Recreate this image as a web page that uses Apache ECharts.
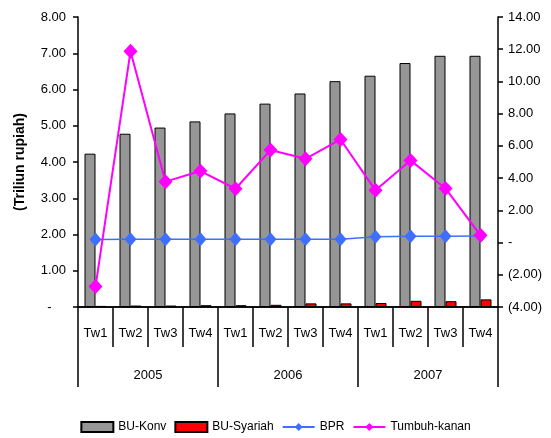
<!DOCTYPE html>
<html>
<head>
<meta charset="utf-8">
<script src="https://cdn.jsdelivr.net/npm/echarts@6/dist/echarts.min.js"></script>
<style>
  html, body { margin: 0; padding: 0; background: #fff; }
  #chart { width: 551px; height: 438px; }
</style>
</head>
<body>
<div id="chart"></div>
<script>
// Quarterly credit figures, 2005-2007
const quarters = ['Tw1', 'Tw2', 'Tw3', 'Tw4', 'Tw1', 'Tw2', 'Tw3', 'Tw4', 'Tw1', 'Tw2', 'Tw3', 'Tw4'];
const years = ['2005', '2006', '2007'];
const buKonv = [4.23, 4.78, 4.95, 5.12, 5.34, 5.61, 5.89, 6.23, 6.38, 6.73, 6.93, 6.93];
const buSyariah = [0.03, 0.04, 0.04, 0.05, 0.05, 0.06, 0.10, 0.10, 0.11, 0.17, 0.16, 0.21];
const bpr = [1.86, 1.87, 1.87, 1.87, 1.87, 1.87, 1.87, 1.87, 1.94, 1.95, 1.95, 1.96];
const tumbuhKanan = [-2.73, 11.87, 3.78, 4.44, 3.34, 5.74, 5.20, 6.40, 3.24, 5.10, 3.36, 0.45];

const FONT = '"Liberation Sans", Arial, sans-serif';
const black = '#000';

// Accounting-style labels: zero shown as a dash, negatives in brackets
function leftFmt(v) {
  return v === 0 ? '-    ' : v.toFixed(2);
}
function rightFmt(v) {
  if (v === 0) return '-';
  if (v < 0) return '(' + Math.abs(v).toFixed(2) + ')';
  return v.toFixed(2);
}

const chart = echarts.init(document.getElementById('chart'), null, { renderer: 'canvas' });

chart.setOption({
  animation: false,
  backgroundColor: '#fff',
  textStyle: { fontFamily: FONT },
  grid: { left: 78, right: 53, top: 17, bottom: 131, containLabel: false },
  legend: {
    bottom: 0,
    left: 'center',
    itemGap: 8,
    itemWidth: 32,
    itemHeight: 10,
    textStyle: { fontFamily: FONT, fontSize: 12, color: black },
    data: [
      { name: 'BU-Konv', icon: 'rect' },
      { name: 'BU-Syariah', icon: 'rect' },
      'BPR',
      'Tumbuh-kanan'
    ]
  },
  xAxis: [
    {
      type: 'category',
      data: quarters,
      position: 'bottom',
      axisLine: { onZero: false, lineStyle: { color: black, width: 1.5 } },
      axisTick: { show: true, interval: 0, length: 40, lineStyle: { color: black, width: 1.5 } },
      axisLabel: { interval: 0, margin: 20, fontSize: 13, color: black, fontFamily: FONT }
    },
    {
      type: 'category',
      data: years,
      position: 'bottom',
      axisLine: { onZero: false, lineStyle: { color: black, width: 1.5 } },
      axisTick: { show: true, interval: 0, length: 80, lineStyle: { color: black, width: 1.5 } },
      axisLabel: { interval: 0, margin: 62, fontSize: 13, color: black, fontFamily: FONT }
    }
  ],
  yAxis: [
    {
      type: 'value',
      min: 0, max: 8, interval: 1,
      name: '(Triliun rupiah)',
      nameLocation: 'middle',
      nameGap: 51,
      nameTextStyle: { fontFamily: FONT, fontSize: 14, fontWeight: 'bold', color: black },
      splitLine: { show: false },
      axisLine: { show: true, lineStyle: { color: black, width: 1.5 } },
      axisTick: { show: true, length: 5, lineStyle: { color: black, width: 1.5 } },
      axisLabel: { formatter: leftFmt, fontSize: 13, color: black, margin: 12, fontFamily: FONT }
    },
    {
      type: 'value',
      min: -4, max: 14, interval: 2,
      position: 'right',
      splitLine: { show: false },
      axisLine: { show: true, lineStyle: { color: black, width: 1.5 } },
      axisTick: { show: true, length: 5, lineStyle: { color: black, width: 1.5 } },
      axisLabel: { formatter: rightFmt, fontSize: 13, color: black, margin: 10, fontFamily: FONT }
    }
  ],
  series: [
    {
      name: 'BU-Konv',
      type: 'bar',
      xAxisIndex: 0, yAxisIndex: 0,
      data: buKonv,
      barWidth: 11,
      barGap: '0%',
      itemStyle: { color: '#969696', borderColor: black, borderWidth: 1 }
    },
    {
      name: 'BU-Syariah',
      type: 'bar',
      xAxisIndex: 0, yAxisIndex: 0,
      data: buSyariah,
      barWidth: 11,
      barGap: '0%',
      itemStyle: { color: '#ff0000', borderColor: black, borderWidth: 1 }
    },
    {
      name: 'BPR',
      type: 'line',
      xAxisIndex: 0, yAxisIndex: 0,
      data: bpr,
      symbol: 'diamond',
      symbolSize: [12, 14],
      lineStyle: { color: '#3f6fff', width: 1.5 },
      itemStyle: { color: '#3f6fff' }
    },
    {
      name: 'Tumbuh-kanan',
      type: 'line',
      xAxisIndex: 0, yAxisIndex: 1,
      data: tumbuhKanan,
      symbol: 'diamond',
      symbolSize: [14, 15],
      lineStyle: { color: '#ff00ff', width: 2 },
      itemStyle: { color: '#ff00ff' }
    }
  ]
});
</script>
</body>
</html>
